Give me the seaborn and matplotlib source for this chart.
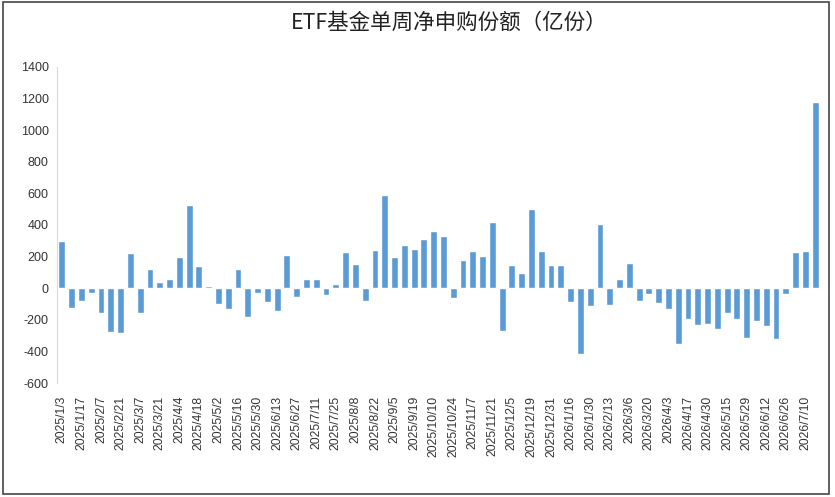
import numpy as np
import pandas as pd
import seaborn as sns
import matplotlib.pyplot as plt
from matplotlib.patches import Rectangle

# ========== DADOS ==========
weeks = [
    "2025/1/3", "2025/1/10", "2025/1/17", "2025/1/24", "2025/2/7", "2025/2/14",
    "2025/2/21", "2025/2/28", "2025/3/7", "2025/3/14", "2025/3/21", "2025/3/28",
    "2025/4/4", "2025/4/11", "2025/4/18", "2025/4/25", "2025/5/2", "2025/5/9",
    "2025/5/16", "2025/5/23", "2025/5/30", "2025/6/6", "2025/6/13", "2025/6/20",
    "2025/6/27", "2025/7/4", "2025/7/11", "2025/7/18", "2025/7/25", "2025/8/1",
    "2025/8/8", "2025/8/15", "2025/8/22", "2025/8/29", "2025/9/5", "2025/9/12",
    "2025/9/19", "2025/9/26", "2025/10/10", "2025/10/17", "2025/10/24", "2025/10/31",
    "2025/11/7", "2025/11/14", "2025/11/21", "2025/11/28", "2025/12/5", "2025/12/12",
    "2025/12/19", "2025/12/26", "2025/12/31", "2026/1/9", "2026/1/16", "2026/1/23",
    "2026/1/30", "2026/2/6", "2026/2/13", "2026/2/27", "2026/3/6", "2026/3/13",
    "2026/3/20", "2026/3/27", "2026/4/3", "2026/4/10", "2026/4/17", "2026/4/24",
    "2026/4/30", "2026/5/8", "2026/5/15", "2026/5/22", "2026/5/29", "2026/6/5",
    "2026/6/12", "2026/6/19", "2026/6/26", "2026/7/3", "2026/7/10", "2026/7/17",
]
net_subscription = [
    300, -125, -78, -32, -158, -276, -280, 225, -154, 124, 40, 57,
    196, 528, 141, 15, -99, -133, 120, -179, -32, -84, -141, 208,
    -57, 57, 61, -42, 27, 229, 154, -78, 242, 587, 200, 276,
    246, 312, 360, 333, -63, 179, 236, 204, 419, -267, 145, 99,
    503, 234, 145, 145, -84, -418, -112, 406, -107, 57, 162, -78,
    -38, -95, -133, -352, -192, -232, -225, -257, -156, -192, -314, -204,
    -240, -322, -38, 229, 238, 1178,
]
yticks = list(range(-600, 1401, 200))

df = pd.DataFrame({"week": weeks, "value": net_subscription})

# ========== FIGURA ==========
sns.set_theme(style="white")
plt.rcParams['font.family'] = ['Noto Sans CJK SC', 'DejaVu Sans']

fig = plt.figure(figsize=(8.35, 4.97), dpi=100)
ax = fig.add_axes([0.0683, 0.2288, 0.9138, 0.637])

sns.barplot(data=df, x="week", y="value", color="#5B9BD5", saturation=1,
            width=0.7, ax=ax)

ax.set_xlim(-0.5, len(weeks) - 0.5)
ax.set_ylim(-600, 1400)
ax.set_yticks(yticks)
ax.set_yticklabels([str(t) for t in yticks], fontsize=9, color="#333333",
                   family="Liberation Sans")
ax.set_xticks(range(0, len(weeks), 2))
ax.set_xticklabels(weeks[::2], rotation=90, fontsize=8.7, color="#333333",
                   family="Liberation Sans")
ax.tick_params(axis="x", length=0, pad=9)
ax.tick_params(axis="y", length=0, pad=6)
ax.set_xlabel("")
ax.set_ylabel("")

for side in ["top", "right", "bottom"]:
    ax.spines[side].set_visible(False)
ax.spines["left"].set_color("#d9d9d9")
ax.spines["left"].set_linewidth(0.8)

fig.text(0.538, 0.955, "ETF基金单周净申购份额（亿份）", ha="center", va="center",
         fontsize=15.5, color="#222222")

# moldura da imagem
fig.patches.append(Rectangle((0.004, 0.006), 0.989, 0.99, transform=fig.transFigure,
                             fill=False, edgecolor="#444444", linewidth=1.2))

plt.savefig("out.png", dpi=100)
